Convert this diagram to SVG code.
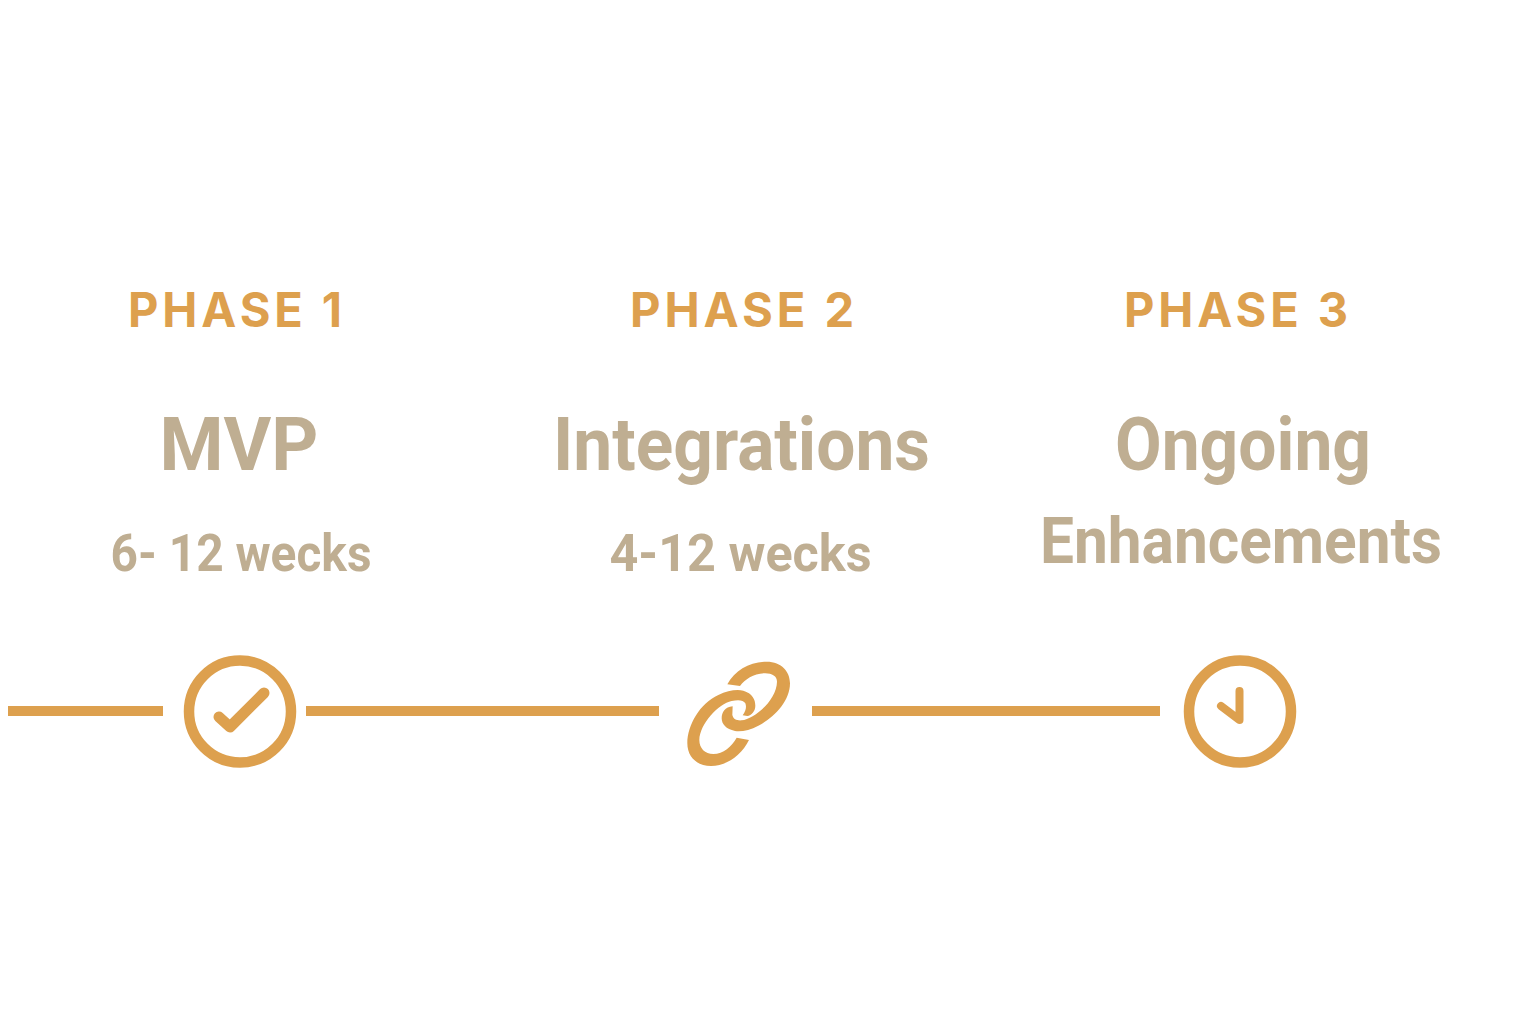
<svg xmlns="http://www.w3.org/2000/svg" width="1536" height="1024" viewBox="0 0 1536 1024">
<style>
text{text-anchor:middle}
.ph{font-family:"Inter","Liberation Sans",sans-serif;font-size:48px;font-weight:700;fill:#DDA04E;letter-spacing:4px}
.ti{font-family:"Roboto","Liberation Sans",sans-serif;font-size:75px;font-weight:700;fill:#BFAE92}
.su{font-family:"Roboto","Liberation Sans",sans-serif;font-size:52px;font-weight:700;fill:#BFAE92}
.en{font-family:"Roboto","Liberation Sans",sans-serif;font-size:65px;font-weight:700;fill:#BFAE92}
.ln{stroke:#DDA04E;stroke-width:10;fill:none}
.ic{stroke:#DDA04E;fill:none;stroke-linecap:round;stroke-linejoin:round}
.fl{fill:#DDA04E}
</style>
<rect width="1536" height="1024" fill="#FFFFFF"/>
<g id="connectors">
<line class="ln" x1="8" y1="711" x2="163" y2="711"/>
<line class="ln" x1="306" y1="711" x2="659" y2="711"/>
<line class="ln" x1="812" y1="711" x2="1160" y2="711"/>
</g>
<g id="phase1">
<text class="ph" x="237" y="327" textLength="218" lengthAdjust="spacingAndGlyphs">PHASE 1</text>
<text class="ti" x="239" y="470" textLength="159" lengthAdjust="spacingAndGlyphs">MVP</text>
<text class="su" x="241" y="571" textLength="261" lengthAdjust="spacingAndGlyphs">6- 12 wecks</text>
<circle class="ic" cx="240" cy="711.5" r="51" stroke-width="10.5"/>
<path class="ic" d="M219 717L230 727L264 693" stroke-width="11"/>
</g>
<g id="phase2">
<text class="ph" x="744" y="327" textLength="228" lengthAdjust="spacingAndGlyphs">PHASE 2</text>
<text class="ti" x="741.5" y="470" textLength="377" lengthAdjust="spacingAndGlyphs">Integrations</text>
<text class="su" x="740.5" y="571" textLength="262" lengthAdjust="spacingAndGlyphs">4-12 wecks</text>
<g transform="translate(640 640) scale(.33333)">
<path class="fl" d="M262 133C285 90 330 65 380 65C425 65 450 95 450 130C450 185 400 235 355 257C330 270 305 276 285 273C258 268 245 252 245 235C245 218 255 200 278 199L277 225C280 238 290 242 305 241C345 236 410 180 411 125C411 108 395 99 372 100C340 102 315 118 300 138Z"/>
<path class="fl" d="M327 300C305 345 260 378 213 378C170 378 142 350 142 310C142 255 180 190 235 165C262 152 290 147 310 152C337 160 346 178 346 197C346 214 334 226 322 228L308 226C318 212 320 200 316 190C310 180 295 179 275 183C235 192 180 250 178 300C178 325 195 342 220 342C250 342 275 320 290 293Z"/>
</g>
</g>
<g id="phase3">
<text class="ph" x="1238" y="327" textLength="228" lengthAdjust="spacingAndGlyphs">PHASE 3</text>
<text class="ti" x="1243" y="470" textLength="256" lengthAdjust="spacingAndGlyphs">Ongoing</text>
<text class="en" x="1241" y="563" textLength="402" lengthAdjust="spacingAndGlyphs">Enhancements</text>
<circle class="ic" cx="1240" cy="711.5" r="51" stroke-width="10.5"/>
<path class="ic" d="M1239.5 691L1239.5 720L1221 706" stroke-width="8"/>
</g>
</svg>
